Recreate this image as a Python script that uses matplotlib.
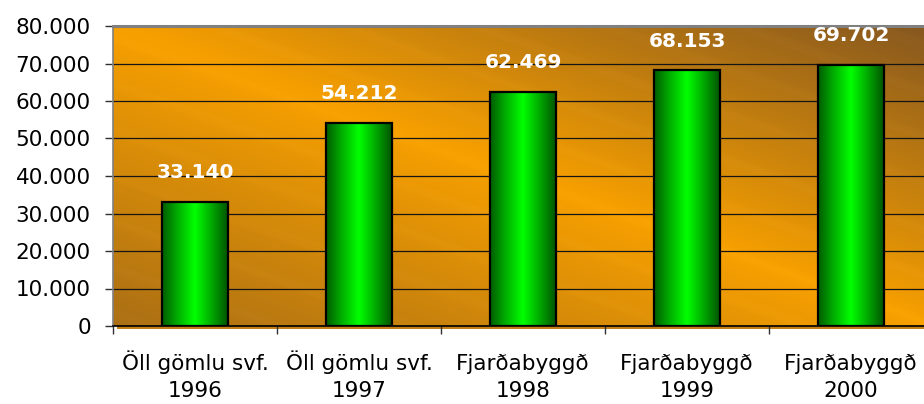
import numpy as np
import matplotlib.pyplot as plt
from matplotlib.colors import LinearSegmentedColormap, to_rgb
from matplotlib.ticker import FuncFormatter
from matplotlib.patches import Rectangle

names = ["Öll gömlu svf.", "Öll gömlu svf.", "Fjarðabyggð", "Fjarðabyggð", "Fjarðabyggð"]
years = ["1996", "1997", "1998", "1999", "2000"]
values = [33140, 54212, 62469, 68153, 69702]
y_ticks = [0, 10000, 20000, 30000, 40000, 50000, 60000, 70000, 80000]


def isl(n, pos=None):
    # icelandic thousands separator
    return f"{int(n):,}".replace(",", ".")


fig = plt.figure(figsize=(9.24, 4.04), dpi=100)
ax = fig.add_axes([113 / 924, 78 / 404, 820 / 924, 300 / 404])

# orange background, darker towards top right and bottom left, faint diagonal streaks
gx, gy = np.meshgrid(np.linspace(0, 1, 600), np.linspace(1, 0, 300))
d = gx + gy - 1
light = np.array(to_rgb("#F7A000"))
top_right = np.array(to_rgb("#8A5A1E"))
bottom_left = np.array(to_rgb("#A66C16"))
tp = np.clip(d, 0, 1)[..., None] * 1.05
tn = np.clip(-d, 0, 1)[..., None] * 0.95
bg = light * (1 - tp - tn) + top_right * tp + bottom_left * tn
streak = np.sin((gx * 820 * 0.35 + gy * 300) / 300 * 2 * np.pi * 6.5)
bg = np.clip(bg + 0.025 * np.clip(streak, 0.6, 1)[..., None] - 0.015, 0, 1)
ax.imshow(bg, extent=(0, 1, 0, 1), transform=ax.transAxes, aspect="auto", zorder=0)
# thin floor strip under the axis line
ax.add_patch(Rectangle((0.005, -0.009), 0.995, 0.009, transform=ax.transAxes,
                       facecolor="#C47E14", edgecolor="none", clip_on=False, zorder=0))

x = np.arange(len(values))
bars = ax.bar(x, values, width=0.4, facecolor="none", edgecolor="black",
              linewidth=1.6, zorder=3)

green = LinearSegmentedColormap.from_list(
    "g", [(0, "#005C00"), (0.22, "#00A800"), (0.5, "#00FF00"), (0.78, "#00A000"), (1, "#005400")])
grad = green(np.linspace(0, 1, 256))[None, :, :]
for b, v in zip(bars, values):
    ax.imshow(grad, extent=(b.get_x(), b.get_x() + b.get_width(), 0, b.get_height()),
              aspect="auto", zorder=2, interpolation="bicubic")
    ax.annotate(isl(v), (b.get_x() + b.get_width() / 2, v), xytext=(0, 17),
                textcoords="offset points", ha="center", va="baseline",
                color="white", fontweight="bold", fontsize=14.5)

ax.set_xlim(-0.5, len(values) - 0.5)
ax.set_ylim(0, 80000)
ax.set_yticks(y_ticks)
ax.yaxis.set_major_formatter(FuncFormatter(isl))
ax.set_xticks(np.arange(len(values) + 1) - 0.5)
ax.set_xticklabels([])

# two-line category labels, baselines fixed under the axis
for xi, n, yr in zip(x, names, years):
    ax.text(xi, -44 / 300, n, transform=ax.get_xaxis_transform(), ha="center",
            va="baseline", fontsize=15.5)
    ax.text(xi, -71 / 300, yr, transform=ax.get_xaxis_transform(), ha="center",
            va="baseline", fontsize=15.5)

ax.set_axisbelow(True)
ax.yaxis.grid(True, color="#151515", linewidth=0.9)

ax.spines["right"].set_visible(False)
ax.spines["top"].set_color("#808080")
ax.spines["top"].set_linewidth(2.2)
ax.spines["left"].set_color("#808080")
ax.spines["left"].set_linewidth(1.2)
ax.spines["bottom"].set_color("black")
ax.spines["bottom"].set_linewidth(1.2)
ax.spines["bottom"].set_zorder(4)

ax.tick_params(axis="y", direction="out", length=6, width=1, color="#303030",
               pad=10, labelsize=15.5)
ax.tick_params(axis="x", direction="out", length=6, width=1, color="#303030")

fig.savefig("out.png", dpi=100)
